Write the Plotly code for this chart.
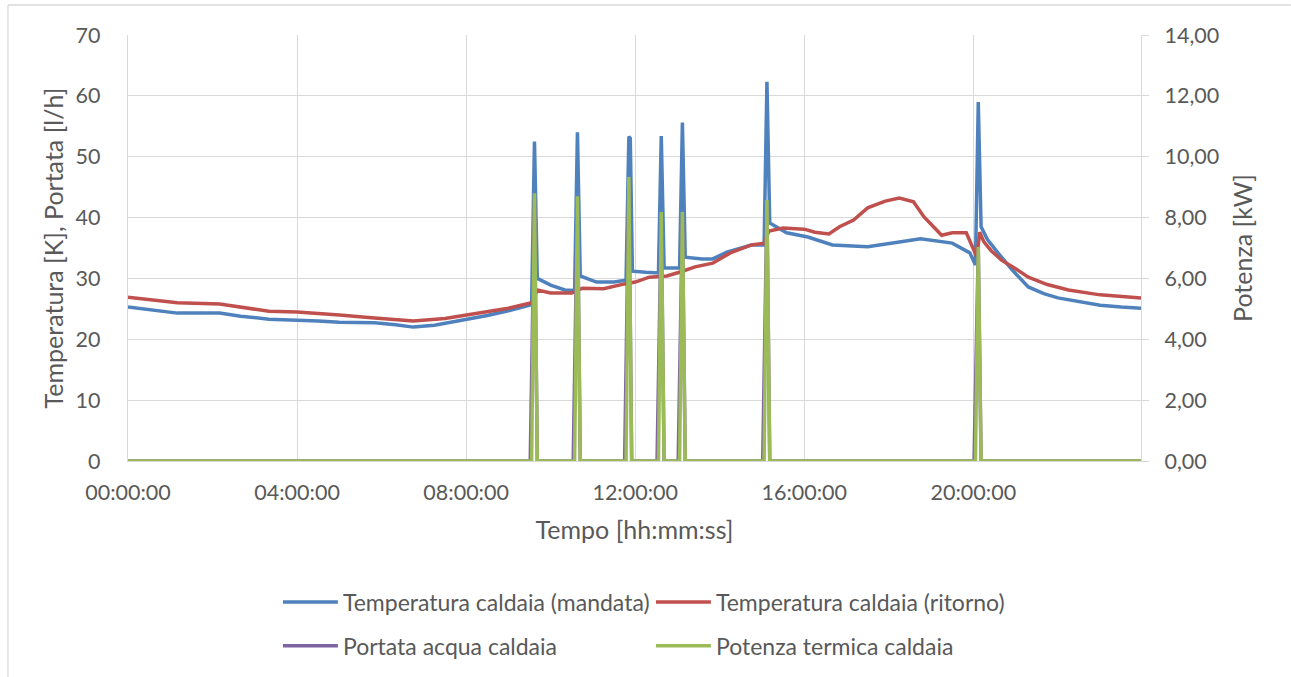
import plotly.graph_objects as go

DAY = "2020-01-01 "

# ---- Temperatura caldaia (mandata) [K] ----
mandata_t = ["00:00", "00:35", "01:10", "02:10", "02:40", "03:20", "04:00", "04:30", "05:00",
             "05:50", "06:20", "06:45", "07:15", "07:45", "08:00", "08:30", "09:00", "09:30",
             "09:33", "09:37", "09:41", "10:00", "10:20", "10:34", "10:38", "10:42", "11:05",
             "11:30", "11:47", "11:51", "11:53", "11:56", "12:15", "12:33", "12:37", "12:41",
             "13:03", "13:07", "13:11", "13:35", "13:50", "14:10", "14:45", "15:03", "15:07",
             "15:11", "15:35", "16:05", "16:40", "17:30", "18:15", "18:45", "19:30", "19:55",
             "20:03", "20:07", "20:11", "20:20", "20:35", "20:55", "21:18", "21:40", "22:00",
             "22:30", "23:00", "23:30", "23:58"]
mandata_v = [25.3, 24.8, 24.3, 24.3, 23.8, 23.3, 23.2, 23.0, 22.8,
             22.7, 22.4, 22.0, 22.3, 22.9, 23.2, 23.9, 24.7, 25.6,
             26.0, 52.5, 30.0, 28.9, 28.1, 28.0, 54.0, 30.4, 29.4,
             29.4, 29.7, 53.3, 53.0, 31.2, 31.0, 30.9, 53.4, 31.7,
             31.7, 55.6, 33.5, 33.2, 33.2, 34.3, 35.5, 35.5, 62.3,
             39.1, 37.5, 36.8, 35.5, 35.2, 36.0, 36.5, 35.8, 34.2,
             32.2, 59.0, 38.5, 36.4, 34.2, 31.4, 28.6, 27.5, 26.8,
             26.2, 25.6, 25.3, 25.1]

# ---- Temperatura caldaia (ritorno) [K] ----
ritorno_t = ["00:00", "00:35", "01:10", "02:10", "02:40", "03:20", "04:00", "04:30", "05:00",
             "05:50", "06:45", "07:30", "08:00", "08:30", "09:00", "09:33", "09:41", "10:00",
             "10:30", "10:45", "11:15", "11:45", "12:00", "12:20", "12:45", "13:05", "13:25",
             "13:50", "14:15", "14:45", "15:03", "15:10", "15:30", "16:00", "16:15", "16:35",
             "16:50", "17:10", "17:30", "17:55", "18:15", "18:35", "18:50", "19:15", "19:30",
             "19:50", "20:05", "20:09", "20:15", "20:25", "20:40", "21:00", "21:18", "21:45",
             "22:15", "23:00", "23:30", "23:58"]
ritorno_v = [26.9, 26.5, 26.0, 25.8, 25.3, 24.6, 24.5, 24.3, 24.0,
             23.5, 23.0, 23.4, 24.0, 24.5, 25.1, 26.0, 28.1, 27.6,
             27.6, 28.4, 28.3, 29.1, 29.4, 30.2, 30.4, 31.1, 31.9,
             32.5, 34.2, 35.5, 35.8, 37.8, 38.3, 38.1, 37.6, 37.3,
             38.5, 39.6, 41.6, 42.7, 43.2, 42.6, 40.1, 37.1, 37.5,
             37.5, 33.5, 37.6, 36.0, 34.6, 33.0, 31.6, 30.2, 29.0,
             28.1, 27.3, 27.0, 26.8]

# ---- Portata acqua caldaia [l/h] ----
portata_t = ["00:00", "09:31", "09:37", "09:41", "10:32", "10:38", "10:42", "11:45", "11:51",
             "11:55", "12:31", "12:37", "12:41", "13:01", "13:07", "13:11", "15:01", "15:07",
             "15:11", "20:01", "20:07", "20:11", "23:58"]
portata_v = [0, 0, 43.0, 0, 0, 43.0, 0, 0, 46.0,
             0, 0, 40.0, 0, 0, 40.0, 0, 0, 42.0,
             0, 0, 35.0, 0, 0]

# ---- Potenza termica caldaia [kW] ----
potenza_t = ["00:00", "09:33", "09:37", "09:41", "10:34", "10:38", "10:42", "11:47", "11:51",
             "11:55", "12:33", "12:37", "12:41", "13:03", "13:07", "13:11", "15:03", "15:07",
             "15:11", "20:03", "20:07", "20:11", "23:58"]
potenza_v = [0, 0, 8.80, 0, 0, 8.70, 0, 0, 9.33,
             0, 0, 8.18, 0, 0, 8.18, 0, 0, 8.58,
             0, 0, 7.03, 0, 0]

FONT = "Lato"
GREY = "#595959"
GRID = "#D9D9D9"

def dt(ts):
    return [DAY + t for t in ts]

fig = go.Figure()
fig.add_trace(go.Scatter(x=dt(mandata_t), y=mandata_v, mode="lines",
                         name="Temperatura caldaia (mandata)",
                         line=dict(color="#4F81BD", width=3.5), legend="legend"))
fig.add_trace(go.Scatter(x=dt(ritorno_t), y=ritorno_v, mode="lines",
                         name="Temperatura caldaia (ritorno)",
                         line=dict(color="#C0504D", width=3.5), legend="legend"))
fig.add_trace(go.Scatter(x=dt(portata_t), y=portata_v, mode="lines",
                         name="Portata acqua caldaia",
                         line=dict(color="#8064A2", width=3.5), legend="legend2"))
fig.add_trace(go.Scatter(x=dt(potenza_t), y=potenza_v, mode="lines",
                         name="Potenza termica caldaia", yaxis="y2",
                         line=dict(color="#9BBB59", width=3.5), legend="legend2"))

legend_common = dict(orientation="h", xanchor="left", x=0.148, yanchor="middle",
                     entrywidth=303, entrywidthmode="pixels", itemwidth=55,
                     font=dict(family=FONT, size=23, color=GREY),
                     bgcolor="rgba(0,0,0,0)", itemclick=False)

fig.update_layout(
    width=1291, height=677,
    margin=dict(l=128, r=150, t=35, b=216, autoexpand=False),
    paper_bgcolor="white", plot_bgcolor="white",
    separators=",.",
    font=dict(family=FONT, size=21, color=GREY),
    showlegend=True,
    legend=dict(y=-0.331, **legend_common),
    legend2=dict(y=-0.434, **legend_common),
    xaxis=dict(
        type="date",
        range=[DAY + "00:00", DAY + "23:58"],
        tick0=DAY + "00:00", dtick=4 * 3600 * 1000,
        tickformat="%H:%M:%S",
        showgrid=True, gridcolor=GRID, gridwidth=1.3,
        showline=True, linecolor=GRID, linewidth=1.3,
        ticks="", ticklabelstandoff=12,
        tickfont=dict(family=FONT, size=21.5, color=GREY),
        title=dict(text="Tempo [hh:mm:ss]", standoff=17,
                   font=dict(family=FONT, size=25, color=GREY)),
        zeroline=False, automargin=False,
    ),
    yaxis=dict(
        range=[0, 70], dtick=10, tick0=0,
        showgrid=True, gridcolor=GRID, gridwidth=1.3,
        showline=True, linecolor=GRID, linewidth=1.3,
        ticks="", ticklabelstandoff=22,
        tickfont=dict(family=FONT, size=21.5, color=GREY),
        title=dict(text="Temperatura [K], Portata [l/h]", standoff=4,
                   font=dict(family=FONT, size=25, color=GREY)),
        zeroline=False, automargin=False,
    ),
    yaxis2=dict(
        overlaying="y", side="right",
        range=[0, 14], dtick=2, tick0=0, tickformat=".2f",
        showgrid=False,
        showline=True, linecolor=GRID, linewidth=1.3,
        ticks="outside", ticklen=7, tickcolor=GRID, tickwidth=1.3,
        ticklabelstandoff=11,
        tickfont=dict(family=FONT, size=21.5, color=GREY),
        title=dict(text="Potenza [kW]", standoff=16,
                   font=dict(family=FONT, size=25, color=GREY)),
        zeroline=False, automargin=False,
    ),
    shapes=[
        dict(type="line", xref="paper", yref="paper",
             x0=-0.1185, x1=1.148, y0=1.0704, y1=1.0704,
             line=dict(color=GRID, width=1.3)),
        dict(type="line", xref="paper", yref="paper",
             x0=-0.1185, x1=-0.1185, y0=1.0704, y1=-0.52,
             line=dict(color=GRID, width=1.3)),
    ],
)

fig.write_html("out.html")
